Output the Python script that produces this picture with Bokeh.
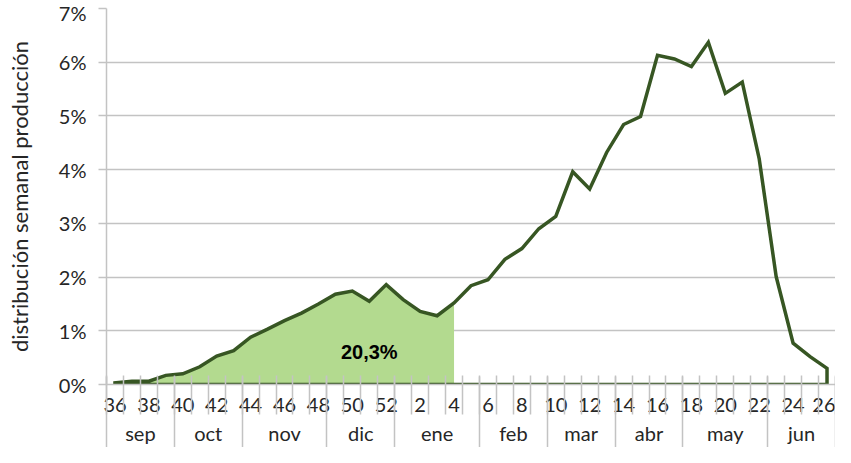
from bokeh.plotting import figure
from bokeh.models import FixedTicker, LinearAxis, Range1d, PrintfTickFormatter
from bokeh.embed import file_html
from bokeh.resources import INLINE
from bokeh.core.properties import value

# ---------------- data ----------------
weeks = [36, 37, 38, 39, 40, 41, 42, 43, 44, 45, 46, 47, 48, 49, 50, 51, 52,
         1, 2, 3, 4, 5, 6, 7, 8, 9, 10, 11, 12, 13, 14, 15, 16, 17, 18, 19, 20,
         21, 22, 23, 24, 25, 26]
share_pct = [0.03, 0.06, 0.06, 0.17, 0.20, 0.33, 0.53, 0.63, 0.88, 1.03, 1.19,
             1.33, 1.50, 1.68, 1.74, 1.55, 1.86, 1.58, 1.36, 1.28, 1.52,
             1.84, 1.95, 2.33, 2.53, 2.90, 3.13, 3.96, 3.64, 4.32, 4.84, 4.99,
             6.13, 6.06, 5.92, 6.37, 5.42, 5.63, 4.20, 2.01, 0.77, 0.52, 0.30]
months = ["sep", "oct", "nov", "dic", "ene", "feb", "mar", "abr", "may", "jun"]
weeks_per_month = [4, 4, 5, 4, 5, 4, 4, 4, 5, 4]
highlight_last_week = 4
highlight_label = "20,3%"
label_week = 51
label_value = 0.6
y_ticks = [0, 1, 2, 3, 4, 5, 6, 7]
y_title = "distribución semanal producción"

# ---------------- styles ----------------
DARK = "#375623"
FILL = "#b3da8f"
GRID = "#c3c3c3"
TXT = "#262626"
FONT = "Lato"
FS = "20px"
WEEK_ROW = 39     # height of the week-label row (px)
BOTTOM_ROWS = 71  # height of both label rows (px)

n = len(weeks)
idx = list(range(n))
hl_end = weeks.index(highlight_last_week)

p = figure(width=835, height=447, output_backend="svg", toolbar_location=None,
           x_range=Range1d(-0.5, n - 0.5), y_range=Range1d(0, y_ticks[-1]),
           x_axis_location=None, min_border_left=106, min_border_right=0,
           min_border_top=8, min_border_bottom=0)
p.outline_line_color = None
p.background_fill_color = "white"
p.border_fill_color = "white"

# highlighted area (first weeks)
hx = [idx[0]] + idx[:hl_end + 1] + [idx[hl_end]]
hy = [0] + share_pct[:hl_end + 1] + [0]
p.patch(hx, hy, fill_color=FILL, line_color=None)

# full season outline
ax = [idx[0]] + idx + [idx[-1]]
ay = [0] + share_pct + [0]
p.patch(ax, ay, fill_color=None, line_color=DARK, line_width=3.5, line_join="miter")

p.text(x=[weeks.index(label_week)], y=[label_value], text=[highlight_label],
       text_align="center", text_baseline="middle", text_font=value("Liberation Sans"),
       text_font_style="bold", text_font_size="20px", text_color="black")

# y axis
yax = p.yaxis[0]
yax.ticker = FixedTicker(ticks=y_ticks)
yax.formatter = PrintfTickFormatter(format="%d%%")
yax.major_tick_out = 8
yax.major_tick_in = 0
yax.minor_tick_line_color = None
yax.major_tick_line_color = GRID
yax.major_tick_line_width = 1.5
yax.axis_line_color = GRID
yax.axis_line_width = 1.5
yax.major_label_standoff = 12
yax.major_label_text_font = FONT
yax.major_label_text_font_size = FS
yax.major_label_text_color = TXT
yax.axis_label = y_title
yax.axis_label_text_font = FONT
yax.axis_label_text_font_size = "22px"
yax.axis_label_text_font_style = "normal"
yax.axis_label_text_color = TXT
yax.axis_label_standoff = 23

p.ygrid.ticker = FixedTicker(ticks=y_ticks)
p.ygrid.grid_line_color = GRID
p.ygrid.grid_line_width = 1.5
p.xgrid.visible = False

# week labels
week_pos = [i for i in idx if weeks[i] % 2 == 0]
week_bounds = [i - 0.5 for i in idx] + [n - 0.5]
week_axis = LinearAxis(
    ticker=FixedTicker(ticks=week_pos),
    major_label_overrides={i: str(weeks[i]) for i in week_pos},
    major_tick_line_color=None, major_tick_out=0, major_tick_in=0,
    minor_tick_line_color=None, minor_tick_out=0, minor_tick_in=0,
    axis_line_color=GRID, axis_line_width=1.5,
    major_label_standoff=13, major_label_text_font=FONT,
    major_label_text_font_size=FS, major_label_text_color=TXT)
p.add_layout(week_axis, "below")

# month labels; its minor ticks draw the week separators upward
month_bounds = [-0.5]
for k in weeks_per_month:
    month_bounds.append(month_bounds[-1] + k)
month_centers = [(a + b) / 2 for a, b in zip(month_bounds[:-1], month_bounds[1:])]
month_axis = LinearAxis(
    ticker=FixedTicker(ticks=month_centers, minor_ticks=week_bounds),
    major_label_overrides={c: m for c, m in zip(month_centers, months)},
    major_tick_line_color=None, major_tick_out=0, major_tick_in=0,
    minor_tick_out=0, minor_tick_in=WEEK_ROW, minor_tick_line_color=GRID,
    minor_tick_line_width=1.5, axis_line_color=None,
    major_label_standoff=6, major_label_text_font=FONT,
    major_label_text_font_size=FS, major_label_text_color=TXT)
p.add_layout(month_axis, "below")

# month separators, drawn upward from the bottom edge
sep_axis = LinearAxis(
    ticker=FixedTicker(ticks=month_bounds, minor_ticks=[]),
    major_label_overrides={b: "" for b in month_bounds},
    major_tick_line_color=GRID, major_tick_line_width=1.5,
    major_tick_out=0, major_tick_in=BOTTOM_ROWS,
    minor_tick_line_color=None, minor_tick_out=0, minor_tick_in=0,
    axis_line_color=None, major_label_standoff=0,
    major_label_text_font_size="0px")
p.add_layout(sep_axis, "below")

open("out.html", "w").write(file_html(p, INLINE))
